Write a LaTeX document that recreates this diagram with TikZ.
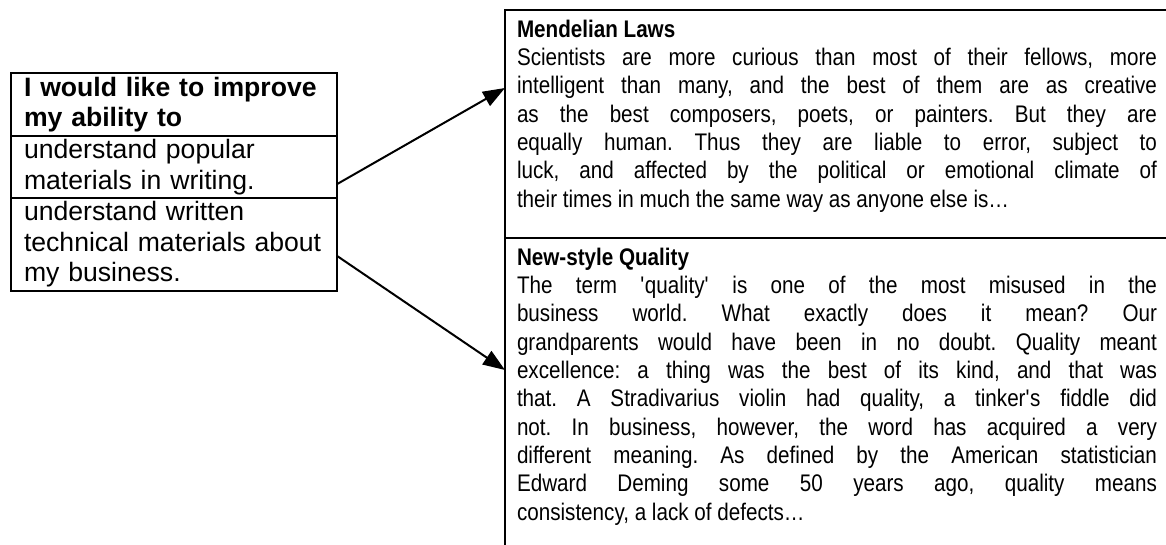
\documentclass[tikz,border=0pt]{standalone}
\usepackage{fontspec}
\setmainfont{Liberation Sans}
\newfontfamily\narrowsans[FakeStretch=0.86]{Liberation Sans}
\usetikzlibrary{positioning,arrows.meta}
\frenchspacing

\begin{document}
\begin{tikzpicture}[x=1pt,y=-1pt,
      cell/.style={rectangle, draw, line width=2pt, outer sep=0pt, inner xsep=13pt, inner ysep=0pt,
        text width=300pt, align=left, font=\fontsize{26.6pt}{30.6pt}\selectfont},
      textbox/.style={rectangle, draw, line width=2pt, outer sep=0pt, inner xsep=12pt, inner ysep=10pt,
        font=\narrowsans\fontsize{24pt}{28.3pt}\selectfont},
      link/.style={line width=2pt, -{Triangle[length=22pt,width=16pt]}}
      ]
      \clip (0,0) rectangle (1166,544);
      \node[cell, minimum height=63pt, anchor=north west] (ask) at (11,73) {\textbf{I would like to improve\\my ability to}};
      \node[cell, minimum height=62pt, below=0pt of ask] (popular) {understand popular\\materials in writing.};
      \node[cell, minimum height=93pt, below=0pt of popular] (technical) {understand written\\technical materials about\\my business.};

      \node[textbox, anchor=north west] (mendel) at (505,10) {\parbox[t][208pt][t]{640pt}{\textbf{Mendelian Laws}\\
        Scientists are more curious than most of their fellows, more\linebreak
        intelligent than many, and the best of them are as creative\linebreak
        as the best composers, poets, or painters. But they are\linebreak
        equally human. Thus they are liable to error, subject to\linebreak
        luck, and affected by the political or emotional climate of\linebreak
        their times in much the same way as anyone else is…}};
      \node[textbox, anchor=north west] (quality) at (mendel.south west) {\parbox[t][310pt][t]{640pt}{\textbf{New-style Quality}\\
        The term \textquotesingle quality\textquotesingle{} is one of the most misused in the\linebreak
        business world. What exactly does it mean? Our\linebreak
        grandparents would have been in no doubt. Quality meant\linebreak
        excellence: a thing was the best of its kind, and that was\linebreak
        that. A Stradivarius violin had quality, a tinker\textquotesingle s fiddle did\linebreak
        not. In business, however, the word has acquired a very\linebreak
        different meaning. As defined by the American statistician\linebreak
        Edward Deming some 50 years ago, quality means\linebreak
        consistency, a lack of defects…}};

      \draw[link] (popular.-6) -- ([yshift=-78pt]mendel.north west);
      \draw[link] (technical.-4) -- ([yshift=-132pt]quality.north west);
    \end{tikzpicture}
\end{document}
